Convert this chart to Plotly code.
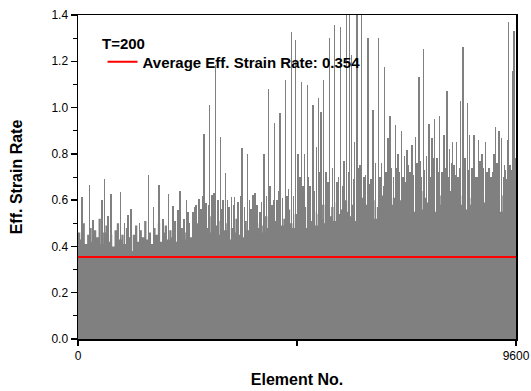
import plotly.graph_objects as go

# ---- data ----
n_elements = 9600
avg_rate = 0.354
title_text = "T=200"

# dense body of the bars, one value per 50 elements
base_step = 50
base_values = [
    0.46,0.43,0.50,0.41,0.45,0.48,0.42,0.47,0.44,0.52,0.41,0.46,0.49,0.42,0.45,0.40,0.47,0.50,0.43,0.45,0.41,0.48,0.44,0.38,
    0.45,0.49,0.42,0.47,0.44,0.51,0.43,0.46,0.41,0.48,0.45,0.50,0.42,0.46,0.49,0.43,0.47,0.44,0.51,0.42,0.45,0.48,0.43,0.46,0.50,0.44,
    0.47,0.43,0.50,0.45,0.52,0.44,0.48,0.46,0.53,0.43,0.49,0.45,0.51,0.44,0.47,0.50,0.43,0.48,0.46,0.52,0.45,0.49,0.44,0.51,0.47,0.46,0.53,0.45,0.50,0.48,
    0.49,0.46,0.53,0.48,0.55,0.47,0.51,0.45,0.54,0.49,0.52,0.47,0.56,0.50,0.48,0.54,0.46,0.52,0.50,0.57,0.48,0.53,0.51,0.55,0.49,0.54,0.52,0.58,0.50,0.55,
    0.53,0.57,0.51,0.59,0.54,0.56,0.52,0.60,0.55,0.53,0.58,0.51,0.57,0.55,0.61,0.53,0.58,0.56,0.54,0.60,0.52,0.57,0.55,0.62,0.56,0.59,0.53,0.58,0.61,0.55,
    0.57,0.60,0.54,0.62,0.58,0.56,0.63,0.55,0.60,0.58,0.64,0.56,0.61,0.59,0.57,0.63,0.55,0.60,0.62,0.58,0.56,0.61,0.59,0.64,0.57,0.60,0.55,0.62,0.58,0.60,
    0.56,0.61,0.58,0.63,0.55,0.60,0.57,0.62,0.59,0.56,0.61,0.58,0.64,0.57,0.60,0.55,0.62,0.59,0.57,0.63,0.60,0.58,
]

# individual tall elements (element number, strain rate)
spike_elements = [
    88, 256, 329, 526, 585, 658, 723, 936, 1023, 1096, 1162, 1352, 1550, 1659, 1776, 1863, 1988, 2082, 2192, 2236, 2323, 2374,
    2411, 2449, 2521, 2587, 2652, 2697, 2762, 2806, 2887, 2937, 3010, 3069, 3119, 3178, 3229, 3310, 3360, 3435, 3507, 3595,
    3711, 3792, 3836, 3924, 3989, 4077, 4180, 4253, 4312, 4362, 4428, 4544, 4581, 4676, 4763, 4822,
    4866, 4895, 4969, 5026, 5086, 5151, 5224, 5276, 5327, 5386, 5436, 5517, 5627, 5677, 5750, 5831, 5881, 5947, 5991, 6065,
    6116, 6138, 6219, 6269, 6357, 6423, 6466, 6591, 6648, 6723, 6751, 6795, 6839, 6955, 6992, 7014, 7087, 7124, 7161, 7212,
    7277, 7321, 7394, 7431, 7475, 7525, 7578, 7635, 7694, 7760, 7819, 7869, 7929, 7979, 8023, 8089, 8148, 8205, 8242, 8293,
    8330, 8389, 8439, 8483, 8534, 8586, 8637, 8680, 8724, 8783, 8812, 8856, 8928, 8966, 9009, 9053, 9119, 9148, 9185, 9229,
    9279, 9317, 9367, 9411, 9441, 9470, 9529, 9557,
    2560, 2730, 2860, 2980, 3150, 3280, 3400, 3560, 3650, 3760, 3880, 4030, 4130, 4210, 4290, 4400, 4480, 4620, 4720,
    4930, 5060, 5190, 5300, 5480, 5570, 5710, 5800, 5920, 6030, 6180, 6310, 6400, 6520, 6620, 6700, 6870, 6920, 7050, 7190,
    7250, 7360, 7500, 7600, 7720, 7790, 7900, 8050, 8120, 8180, 8270, 8360, 8460, 8560, 8660, 8750, 8890, 8990, 9090, 9200,
    9340, 9390, 9500, 9580,
]
spike_values = [
    0.615, 0.665, 0.514, 0.60, 0.69, 0.53, 0.627, 0.635, 0.50, 0.536, 0.56, 0.50, 0.709, 0.572, 0.665, 0.52, 0.627, 0.575, 0.557, 0.64, 0.52, 0.60,
    0.55, 0.50, 0.55, 0.58, 0.605, 0.56, 0.886, 0.587, 1.011, 0.622, 1.184, 0.60, 0.874, 0.60, 0.719, 0.57, 0.614, 0.615, 0.59, 0.825,
    0.80, 0.56, 0.622, 0.58, 0.55, 0.80, 1.079, 0.58, 0.935, 0.60, 0.975, 1.119, 0.62, 1.328, 1.292, 0.80,
    0.70, 1.112, 0.80, 1.098, 0.66, 1.011, 0.83, 1.04, 0.98, 1.119, 0.72, 1.30, 1.357, 0.68, 1.35, 0.77, 1.45, 1.45, 1.227, 0.85,
    1.45, 0.74, 1.45, 0.70, 1.30, 0.69, 0.99, 1.30, 0.76, 1.177, 0.72, 0.87, 0.964, 0.925, 0.74, 0.80, 0.90, 0.70, 0.79, 0.817,
    0.72, 0.838, 0.874, 0.76, 1.133, 0.70, 1.252, 0.79, 0.929, 0.87, 0.949, 0.78, 0.964, 0.72, 0.88, 1.072, 0.82, 0.85, 0.75, 0.85,
    0.70, 1.03, 1.26, 0.78, 1.019, 0.88, 0.74, 0.88, 0.70, 0.86, 0.77, 0.80, 0.85, 0.72, 0.74, 0.70, 0.80, 0.915, 0.76, 0.90,
    0.87, 0.70, 0.73, 0.86, 1.371, 0.75, 1.16, 1.332,
    0.57, 0.62, 0.58, 0.63, 0.56, 0.60, 0.58, 0.62, 0.57, 0.60, 0.63, 0.59, 0.62, 0.66, 0.60, 0.64, 0.61, 0.65, 0.62,
    0.66, 0.70, 0.64, 0.72, 0.68, 0.74, 0.70, 0.66, 0.72, 0.69, 0.75, 0.71, 0.67, 0.76, 0.70, 0.66, 0.74, 0.70, 0.72, 0.68,
    0.75, 0.71, 0.77, 0.73, 0.70, 0.78, 0.72, 0.74, 0.70, 0.76, 0.71, 0.74, 0.68, 0.73, 0.77, 0.70, 0.74, 0.68, 0.72, 0.70,
    0.75, 0.69, 0.73, 0.78,
]

# step outline of the dense body (edges of each 50-element block)
base_x = [base_step * i for i in range(len(base_values))] + [n_elements]
base_y = base_values + [base_values[-1]]

fig = go.Figure()
fig.add_trace(go.Scatter(
    x=base_x, y=base_y, mode="lines", line=dict(shape="hv", width=0, color="#808080"),
    fill="tozeroy", fillcolor="#808080",
    showlegend=False, hoverinfo="skip",
))
fig.add_trace(go.Bar(
    x=spike_elements, y=spike_values, width=26,
    marker=dict(color="#808080", line=dict(width=0)),
    showlegend=False, hoverinfo="skip",
))
fig.add_trace(go.Scatter(
    x=[0, n_elements], y=[avg_rate, avg_rate], mode="lines",
    line=dict(color="#ff0000", width=2),
    name=f"<b>Average Eff. Strain Rate: {avg_rate}</b>",
    showlegend=True,
))

font_family = "Liberation Sans, Arial, sans-serif"
fig.update_layout(
    width=531, height=391,
    margin=dict(l=78, r=15, t=15, b=52),
    paper_bgcolor="white", plot_bgcolor="white",
    barmode="overlay", bargap=0,
    font=dict(family=font_family, size=12, color="black"),
    showlegend=True,
    legend=dict(
        font=dict(size=15), x=0.056, y=(339 - 62) / 324, xanchor="left", yanchor="middle",
        bgcolor="rgba(0,0,0,0)", borderwidth=0, tracegroupgap=0,
        itemwidth=30,
    ),
    annotations=[dict(
        text=f"<b>{title_text}</b>", x=(100 - 78) / 438, y=(339 - 43) / 324,
        xref="paper", yref="paper", xanchor="left", yanchor="middle",
        showarrow=False, font=dict(size=15),
    )],
    xaxis=dict(
        range=[0, n_elements], tickvals=[0, 4800, 9600], ticktext=["0", "", "9600"],
        ticks="outside", ticklen=5, tickwidth=1.5, tickcolor="black",
        showline=True, linecolor="black", linewidth=1.5, mirror=True,
        showgrid=False, zeroline=False, automargin=False,
        title=dict(text="<b>Element No.</b>", font=dict(size=16), standoff=12),
        tickfont=dict(size=12),
    ),
    yaxis=dict(
        range=[0, 1.4], dtick=0.2, tick0=0, tickformat=".1f",
        ticks="outside", ticklen=6, tickwidth=1.5, tickcolor="black",
        minor=dict(dtick=0.1, ticks="outside", ticklen=4, tickwidth=1, tickcolor="black"),
        showline=True, linecolor="black", linewidth=1.5, mirror=True,
        showgrid=False, zeroline=False, automargin=False,
        title=dict(text="<b>Eff. Strain Rate</b>", font=dict(size=16), standoff=25),
        tickfont=dict(size=12),
    ),
)

fig.write_html(
    "out.html",
    config={"displayModeBar": False, "staticPlot": True},
    post_script="document.body.style.margin='0';document.body.style.overflow='hidden';",
)
